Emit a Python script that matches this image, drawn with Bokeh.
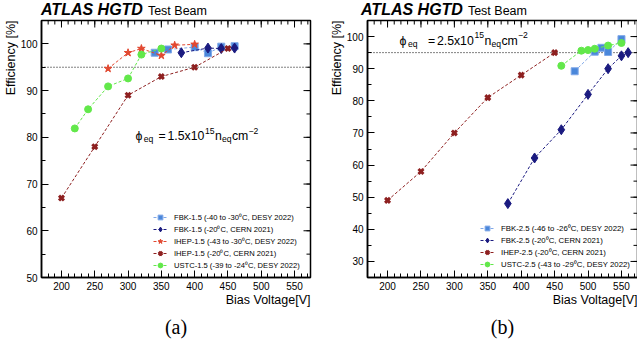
import math
from bokeh.plotting import figure
from bokeh.models import Label, Span, Legend, LegendItem, FixedTicker, Range1d, Title, Div
from bokeh.layouts import row, column
from bokeh.embed import file_html
from bokeh.resources import INLINE

# ---------------- data ----------------
x_ticks = [200, 250, 300, 350, 400, 450, 500, 550]
x_minor = list(range(170, 580, 10))
ya_ticks = [50, 60, 70, 80, 90, 100]
yb_ticks = [30, 40, 50, 60, 70, 80, 90, 100]
y_minor = list(range(25, 106, 5))

# panel (a): 1.5e15 neq/cm2
fbk15_desy_v = [340, 360, 400, 420, 440, 460]
fbk15_desy_eff = [98.1, 98.8, 99.3, 98.0, 99.4, 99.5]
fbk15_cern_v = [380, 420, 440, 460]
fbk15_cern_eff = [98.1, 99.1, 99.0, 99.1]
ihep15_desy_v = [270, 300, 320, 350, 370, 400]
ihep15_desy_eff = [94.7, 98.1, 99.0, 97.5, 99.7, 99.9]
ihep15_cern_v = [200, 250, 300, 350, 400, 450]
ihep15_cern_eff = [67.0, 78.0, 89.0, 93.0, 95.0, 99.0]
ustc15_v = [220, 240, 270, 300, 320, 350]
ustc15_eff = [81.9, 86.0, 90.9, 92.6, 97.7, 99.0]

# panel (b): 2.5e15 neq/cm2
fbk25_desy_v = [480, 510, 520, 530, 550]
fbk25_desy_eff = [89.2, 95.3, 96.5, 95.2, 99.2]
fbk25_cern_v = [380, 420, 460, 500, 530, 550, 560]
fbk25_cern_eff = [48.0, 62.2, 71.0, 82.0, 90.0, 94.0, 95.0]
ihep25_cern_v = [200, 250, 300, 350, 400, 450]
ihep25_cern_eff = [49.0, 58.0, 70.0, 81.0, 88.0, 95.0]
ustc25_v = [460, 490, 500, 510, 530, 550]
ustc25_eff = [90.9, 95.6, 95.8, 96.2, 97.2, 98.0]

labels_a = ["FBK-1.5 (-40 to -30\u2070C, DESY 2022)",
            "FBK-1.5 (-20\u2070C, CERN 2021)",
            "IHEP-1.5 (-43 to -30\u2070C, DESY 2022)",
            "IHEP-1.5 (-20\u2070C, CERN 2021)",
            "USTC-1.5 (-39 to -24\u2070C, DESY 2022)"]
labels_b = ["FBK-2.5 (-46 to -26\u2070C, DESY 2022)",
            "FBK-2.5 (-20\u2070C, CERN 2021)",
            "IHEP-2.5 (-20\u2070C, CERN 2021)",
            "USTC-2.5 (-43 to -29\u2070C, DESY 2022)"]

# ---------------- styles ----------------
FONT = "Liberation Sans"
STY = {
    "fbk_desy": dict(marker="square", color="#4A87DA", line="#80A8E8", size=7, lw=1),
    "fbk_cern": dict(marker="diamond", color="#1B1B80", line="#1B1B80", size=10, lw=1),
    "ihep_desy": dict(marker="star", color="#E24830", line="#E24830", size=8, lw=1),
    "ihep_cern": dict(marker="x", color="#8E2020", line="#8E2020", size=7, lw=3),
    "ustc": dict(marker="circle", color="#62E84A", line="#62E84A", size=7, lw=1),
}

FH = 257
XMIN, XMAX, YMAX = 170, 574, 105


def style_axis(ax):
    ax.axis_line_color = "black"
    ax.axis_line_width = 1.5
    ax.major_tick_in = 7
    ax.major_tick_out = 0
    ax.minor_tick_in = 4
    ax.minor_tick_out = 0
    ax.major_tick_line_color = "black"
    ax.minor_tick_line_color = "black"
    ax.major_label_text_font = FONT
    ax.major_label_text_color = "black"
    ax.major_label_text_font_size = "10px"
    ax.major_label_standoff = 4


def title_div(width, pad):
    html = ('<div style="padding-left:%dpx;white-space:nowrap;'
            'font-family:\'Liberation Sans\',Arial,sans-serif;line-height:19px;'
            'height:19px;color:#000">'
            '<span style="font-weight:bold;font-style:italic;font-size:16px">ATLAS HGTD</span>'
            '<span style="font-size:12.5px;margin-left:5px">Test Beam</span></div>') % pad
    return Div(text=html, width=width, height=19, margin=(0, 0, 0, 0))


def make_panel(fw, ymin, yticks, mbl, mbr, series, labels, leg_loc, leg_fs,
               phi_xy, phi_val, phi_gap, cap, cap_off):
    p = figure(frame_width=fw, frame_height=FH, x_range=Range1d(XMIN, XMAX),
               y_range=Range1d(ymin, YMAX), output_backend="svg",
               toolbar_location=None, min_border_left=mbl, min_border_right=mbr,
               min_border_top=1, min_border_bottom=70)
    p.xgrid.visible = False
    p.ygrid.visible = False
    p.outline_line_color = "black"
    p.outline_line_width = 1.5
    p.outline_line_alpha = 1.0
    p.background_fill_color = "white"
    p.border_fill_color = "white"

    p.xaxis[0].ticker = FixedTicker(ticks=x_ticks, minor_ticks=x_minor)
    p.yaxis[0].ticker = FixedTicker(ticks=yticks, minor_ticks=y_minor)
    style_axis(p.xaxis[0])
    style_axis(p.yaxis[0])

    # ticks on top and right frame edges (ROOT style)
    p.ray(x=x_ticks, y=YMAX, length=7, angle=-math.pi / 2, length_units="screen",
          line_color="black", line_width=1)
    p.ray(x=x_minor, y=YMAX, length=4, angle=-math.pi / 2, length_units="screen",
          line_color="black", line_width=1)
    p.ray(x=XMAX, y=yticks, length=7, angle=math.pi, length_units="screen",
          line_color="black", line_width=1)
    p.ray(x=XMAX, y=y_minor, length=4, angle=math.pi, length_units="screen",
          line_color="black", line_width=1)

    p.add_layout(Span(location=95, dimension="width", line_color="black",
                      line_width=1, line_dash="1 2", level="underlay"))

    items = []
    for (key, xs, ys), lab in zip(series, labels):
        s = STY[key]
        lr = p.line(xs, ys, line_color=s["line"], line_width=1, line_dash="3 2")
        if s["marker"] == "x":
            mr = p.scatter(xs, ys, marker="x", size=s["size"], line_color=s["color"],
                           line_width=s["lw"])
        else:
            mr = p.scatter(xs, ys, marker=s["marker"], size=s["size"],
                           fill_color=s["color"], line_color=s["line"], line_width=1)
        items.append(LegendItem(label=lab, renderers=[lr, mr]))

    leg = Legend(items=items, location=leg_loc, label_text_font=FONT,
                 label_text_font_size=leg_fs, label_text_color="black",
                 glyph_width=14, glyph_height=12, label_height=12, label_standoff=7,
                 spacing=0, padding=0, margin=0, border_line_alpha=0,
                 background_fill_alpha=0)
    p.add_layout(leg)

    # phi annotation assembled from pieces
    px, py = phi_xy
    big = "12.3px"
    small = "8.6px"
    pieces = [("\u03d5", 0, 0, big), ("eq", 8.4, -3, small), ("=", 23 + phi_gap, 0, big),
              (phi_val + "x10", 32 + phi_gap, 0, big), ("15", 69.5 + phi_gap, 5.5, small),
              ("n", 79.5 + phi_gap, 0, big), ("eq", 86.5 + phi_gap, -3, small),
              ("cm", 96.5 + phi_gap, 0, big), ("\u22122", 113 + phi_gap, 5.5, small)]
    for t, dx, dy, fs in pieces:
        p.add_layout(Label(x=px, y=py, x_offset=dx, y_offset=dy, text=t,
                           text_font=FONT, text_font_size=fs, text_color="black",
                           text_baseline="alphabetic", text_align="left"))

    # axis titles and caption as side titles
    p.add_layout(Title(text="Efficiency [%]", align="right", text_font=FONT,
                       text_font_size="12.5px", text_font_style="normal",
                       text_color="black", standoff=0), "left")
    p.add_layout(Title(text="Bias Voltage[V]", align="right", text_font=FONT,
                       text_font_size="12.5px", text_font_style="normal",
                       text_color="black", standoff=-3), "below")
    p.add_layout(Title(text=cap, align="center", offset=cap_off,
                       text_font="Liberation Serif", text_font_size="20px",
                       text_font_style="normal", text_color="black", standoff=17), "below")
    return p


series_a = [("fbk_desy", fbk15_desy_v, fbk15_desy_eff),
            ("fbk_cern", fbk15_cern_v, fbk15_cern_eff),
            ("ihep_desy", ihep15_desy_v, ihep15_desy_eff),
            ("ihep_cern", ihep15_cern_v, ihep15_cern_eff),
            ("ustc", ustc15_v, ustc15_eff)]
series_b = [("fbk_desy", fbk25_desy_v, fbk25_desy_eff),
            ("fbk_cern", fbk25_cern_v, fbk25_cern_eff),
            ("ihep_cern", ihep25_cern_v, ihep25_cern_eff),
            ("ustc", ustc25_v, ustc25_eff)]

pa = make_panel(269, 50, ya_ticks, 41, 17, series_a, labels_a, (112, 6), "7.6px",
                (311, 80.2), "1.5", 0, "(a)", -24)
pb = make_panel(270, 25, yb_ticks, 36, 4, series_b, labels_b, (113, 7.5), "7.8px",
                (218, 98.75), "2.5", 5.3, "(b)", -24)

layout = column(row(title_div(327, 41), title_div(310, 34), spacing=0),
                row(pa, pb, spacing=0), spacing=0)
open("out.html", "w").write(file_html(layout, INLINE))
